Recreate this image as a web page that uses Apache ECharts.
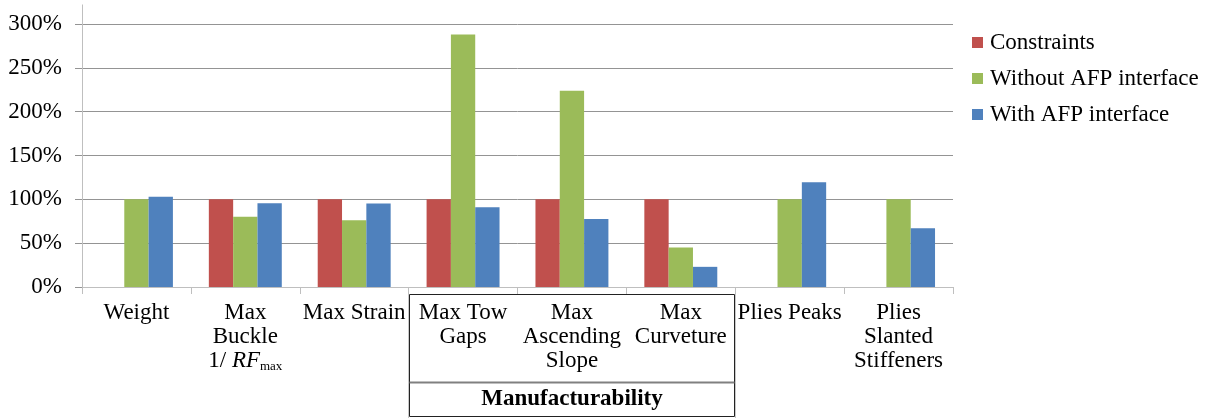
<!DOCTYPE html>
<html>
<head>
<meta charset="utf-8">
<script src="https://cdn.jsdelivr.net/npm/echarts@6/dist/echarts.min.js"></script>
<style>
  html, body { margin: 0; padding: 0; background: #fff; }
  #chart { width: 1209px; height: 418px; }
</style>
</head>
<body>
<div id="chart"></div>
<script>
// Objectives and constraints, relative to their reference values (percent)
const categories = [
  'Weight',
  'Max\nBuckle\n1/ RFmax',
  'Max Strain',
  'Max Tow\nGaps',
  'Max\nAscending\nSlope',
  'Max\nCurveture',
  'Plies Peaks',
  'Plies\nSlanted\nStiffeners'
];
const constraints = [null, 100, 100, 100, 100, 100, null, null];
const withoutAFP  = [100, 80, 76, 288, 224, 45, 100, 100];
const withAFP     = [103, 95.5, 95.3, 91, 77.7, 23, 119.6, 67];

const yMin = 0, yMax = 300, yStep = 50;
const groupLabel = 'Manufacturability';
const groupFirst = 3, groupLast = 5;   // categories covered by the group box

const FONT = "'Liberation Serif', 'Times New Roman', serif";
const FS = 23;
const RED = '#C0504D', GREEN = '#9BBB59', BLUE = '#4F81BD';

const chart = echarts.init(document.getElementById('chart'), null, { renderer: 'canvas' });

function catLabel(v) {
  return v.split('\n').map(function (line) {
    if (line === '1/ RFmax') return '{t|1/ }{i|RF}{s|max}';
    return '{t|' + line + '}';
  }).join('\n');
}

const option = {
  animation: false,
  backgroundColor: '#fff',
  grid: { left: 82, right: 256, top: 24, bottom: 131, containLabel: false },
  legend: {
    orient: 'vertical',
    left: 967, top: 26,
    itemWidth: 11, itemHeight: 11, itemGap: 13,
    icon: 'rect',
    textStyle: { fontFamily: FONT, fontSize: FS, color: '#000', padding: [0, 0, 0, 2] },
    data: ['Constraints', 'Without AFP interface', 'With AFP interface']
  },
  xAxis: {
    type: 'category',
    data: categories,
    axisLine: { lineStyle: { color: '#bfbfbf', width: 1 } },
    axisTick: { show: true, length: 7, lineStyle: { color: '#bfbfbf' } },
    axisLabel: {
      interval: 0, margin: 14,
      formatter: catLabel,
      rich: {
        t: { fontFamily: FONT, fontSize: FS, lineHeight: 24, color: '#000' },
        i: { fontFamily: FONT, fontSize: FS, lineHeight: 24, fontStyle: 'italic', color: '#000' },
        s: { fontFamily: FONT, fontSize: 13, lineHeight: 24, color: '#000', padding: [12, 0, 0, 0] }
      }
    },
    splitLine: { show: false }
  },
  yAxis: {
    type: 'value',
    min: yMin, max: yMax, interval: yStep,
    axisLine: { show: true, lineStyle: { color: '#bfbfbf' } },
    axisTick: { show: true, length: 7, lineStyle: { color: '#949494' } },
    axisLabel: { margin: 20, fontFamily: FONT, fontSize: FS, color: '#000', formatter: '{value}%' },
    splitLine: { lineStyle: { color: '#949494', width: 1 } }
  },
  series: [
    { name: 'Constraints', type: 'bar', data: constraints, itemStyle: { color: RED },
      barGap: '0%', barCategoryGap: '33%' },
    { name: 'Without AFP interface', type: 'bar', data: withoutAFP, itemStyle: { color: GREEN } },
    { name: 'With AFP interface', type: 'bar', data: withAFP, itemStyle: { color: BLUE } }
  ]
};
chart.setOption(option);

// Group box under the manufacturability categories, placed from the axis scale
(function () {
  const c0 = chart.convertToPixel({ xAxisIndex: 0 }, categories[0]);
  const c1 = chart.convertToPixel({ xAxisIndex: 0 }, categories[1]);
  const band = c1 - c0;
  const left = Math.round(chart.convertToPixel({ xAxisIndex: 0 }, categories[groupFirst]) - band / 2) + 0.5;
  const right = Math.round(chart.convertToPixel({ xAxisIndex: 0 }, categories[groupLast]) + band / 2) - 0.5;
  const axisY = Math.round(chart.convertToPixel({ yAxisIndex: 0 }, yMin));
  const topY = chart.convertToPixel({ yAxisIndex: 0 }, yMax);
  const axisX = chart.convertToPixel({ xAxisIndex: 0 }, categories[0]) - band / 2;
  const boxTop = axisY + 7.5, sepY = 382.5, boxBottom = 416.5;
  const light = { stroke: '#c8c8c8', lineWidth: 1 };
  const dark = { stroke: '#222', lineWidth: 1 };
  chart.setOption({
    graphic: [
      // value axis line continues above the top gridline
      { type: 'line', shape: { x1: Math.round(axisX) + 0.5, y1: 4.5, x2: Math.round(axisX) + 0.5, y2: topY }, style: { stroke: '#bfbfbf', lineWidth: 1 } },
      { type: 'line', shape: { x1: left - 1, y1: axisY, x2: left - 1, y2: 418 }, style: light },
      { type: 'line', shape: { x1: right + 1, y1: axisY, x2: right + 1, y2: 418 }, style: light },
      { type: 'polyline', shape: { points: [[left, boxBottom], [left, boxTop], [right, boxTop], [right, boxBottom], [left, boxBottom]] }, style: Object.assign({ fill: null }, dark) },
      { type: 'line', shape: { x1: left, y1: sepY, x2: right, y2: sepY }, style: { stroke: '#808080', lineWidth: 2 } },
      { type: 'text', x: (left + right) / 2, y: (sepY + boxBottom) / 2,
        style: { text: groupLabel, fontFamily: FONT, fontSize: FS, fontWeight: 'bold', fill: '#000', align: 'center', verticalAlign: 'middle' } }
    ]
  });
})();
</script>
</body>
</html>
